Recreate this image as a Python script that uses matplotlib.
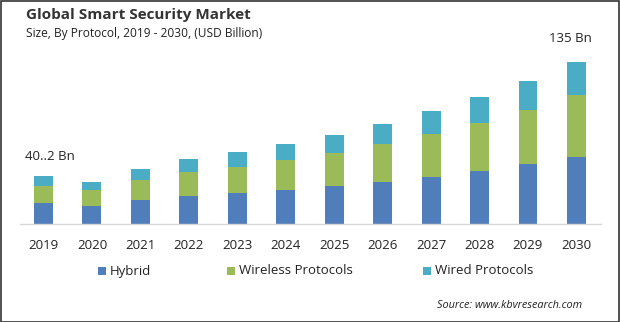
import matplotlib
matplotlib.use("Agg")
import matplotlib.pyplot as plt
from matplotlib.patches import Rectangle
import numpy as np

plt.rcParams['font.family'] = ['Open Sans', 'DejaVu Sans']

years = ['2019', '2020', '2021', '2022', '2023', '2024', '2025', '2026', '2027', '2028', '2029', '2030']
hybrid = [17.5, 15.0, 20.0, 23.3, 25.8, 28.3, 31.7, 35.0, 39.2, 44.2, 50.0, 55.8]
wireless = [14.2, 13.3, 16.7, 20.0, 21.7, 25.0, 27.2, 31.7, 35.8, 40.0, 45.0, 51.7]
wired = [8.3, 6.7, 9.2, 10.8, 12.5, 13.3, 15.3, 16.7, 19.2, 21.7, 24.2, 27.5]
series_names = ['Hybrid', 'Wireless Protocols', 'Wired Protocols']
colors = ['#4F7EBB', '#9BBB59', '#4BACC6']
first_label = '40..2 Bn'
last_label = '135 Bn'

W, H = 620, 322
fig = plt.figure(figsize=(W / 100, H / 100), dpi=100)
fig.patch.set_facecolor('white')

# axes in pixel coords
left, right, top, base = 20, 601, 30, 224
ax = fig.add_axes([left / W, (H - base) / H, (right - left) / W, (base - top) / H])
x = np.arange(len(years))
ax.set_xlim(-0.485, 11.507)
ax.set_ylim(0, (base - top) / 1.2)

bw = 0.39
h = np.array(hybrid); w1 = np.array(wireless); w2 = np.array(wired)
ax.bar(x, h, bw, color=colors[0], label=series_names[0])
ax.bar(x, w1, bw, bottom=h, color=colors[1], label=series_names[1])
ax.bar(x, w2, bw, bottom=h + w1, color=colors[2], label=series_names[2])

for s in ['top', 'right', 'left']:
    ax.spines[s].set_visible(False)
ax.spines['bottom'].set_color('#d9d9d9')
ax.spines['bottom'].set_linewidth(1.0)
ax.set_yticks([])
ax.set_xticks(x)
ax.set_xticklabels(years, fontsize=9.5, color='#222222')
ax.tick_params(axis='x', length=0, pad=10.5)

total = h + w1 + w2
ax.annotate(first_label, xy=(x[0], total[0]), xytext=(-13, 9), textcoords='offset points',
            ha='left', va='bottom', fontsize=9.5, color='#222222')
ax.annotate(last_label, xy=(x[-1], total[-1]), xytext=(-20, 12), textcoords='offset points',
            ha='left', va='bottom', fontsize=9.5, color='#222222')

fig.text(26 / W, 1 - 15 / H, 'Global Smart Security Market', fontsize=11, fontweight='bold',
         color='#333333', ha='left', va='center')
fig.text(26 / W, 1 - 34 / H, 'Size, By Protocol, 2019 - 2030, (USD Billion)', fontsize=8.6,
         color='#222222', ha='left', va='center')

# legend
leg_items = [(98, 0), (227, 1), (423, 2)]
for px, i in leg_items:
    fig.patches.append(Rectangle((px / W, 1 - 275 / H), 8 / W, 8 / H, transform=fig.transFigure,
                                 facecolor=colors[i], edgecolor='none'))
    fig.text((px + 12) / W, 1 - 271 / H, series_names[i], fontsize=9.5, color='#222222',
             ha='left', va='center')

fig.text(582 / W, 1 - 306 / H, 'Source: www.kbvresearch.com', fontsize=7.8, style='italic',
         color='#222222', ha='right', va='center')

# border
fig.patches.append(Rectangle((0.5 / W, 0.5 / H), 1 - 1.5 / W, 1 - 1.5 / H, transform=fig.transFigure,
                             facecolor='none', edgecolor='#333333', linewidth=1.2))

fig.savefig('out.png', dpi=100)
